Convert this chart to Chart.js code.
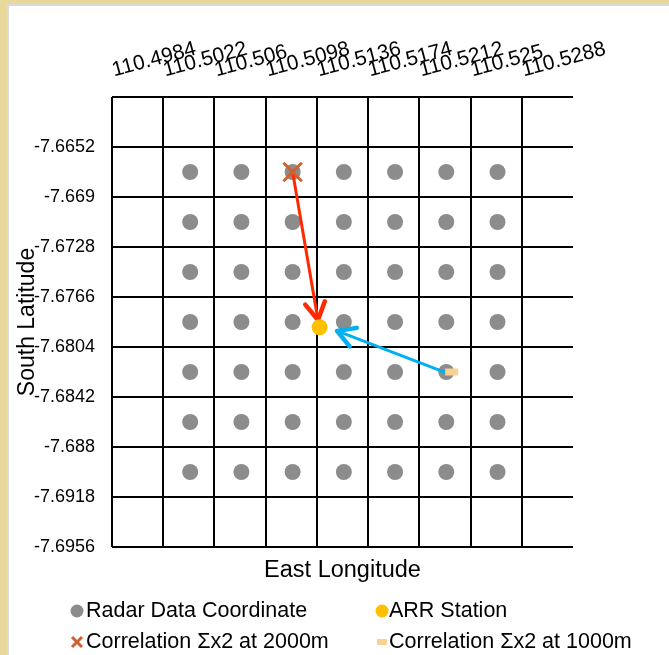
<!DOCTYPE html>
<html>
<head>
<meta charset="utf-8">
<script src="https://cdn.jsdelivr.net/npm/chart.js@4.4.1/dist/chart.umd.min.js"></script>
<style>
  html, body { margin: 0; padding: 0; }
  body { width: 669px; height: 655px; background: #e8d99b; overflow: hidden; position: relative; }
  .panel { position: absolute; left: 7px; top: 4px; width: 660px; height: 649px; background: #fff;
           border-left: 2px solid #dadada; border-top: 2px solid #dadada; }
  canvas { display: block; }
</style>
</head>
<body>
<div class="panel"><canvas id="chart" width="660" height="649"></canvas></div>
<script>
// axis ticks (longitude along the top, latitude on the left)
const lonTicks = [110.4984, 110.5022, 110.5060, 110.5098, 110.5136, 110.5174, 110.5212, 110.5250, 110.5288, 110.5326];
const lonTickLabels = ['110.4984', '110.5022', '110.506', '110.5098', '110.5136', '110.5174', '110.5212', '110.525', '110.5288', ''];
const latTicks = [-7.6956, -7.6918, -7.6880, -7.6842, -7.6804, -7.6766, -7.6728, -7.6690, -7.6652, -7.6614];
const latTickLabels = ['-7.6956', '-7.6918', '-7.688', '-7.6842', '-7.6804', '-7.6766', '-7.6728', '-7.669', '-7.6652', ''];

// radar grid coordinates
const radarLon = [110.5042, 110.5080, 110.5118, 110.5156, 110.5194, 110.5232, 110.5270];
const radarLat = [-7.6671, -7.6709, -7.6747, -7.6785, -7.6823, -7.6861, -7.6899];

// station and best-correlation points
const arrStation = [{ x: 110.5138, y: -7.6789 }];
const corr2000 = [{ x: 110.5118, y: -7.6671 }];
const corr1000 = [{ x: 110.5236, y: -7.6823 }];

// arrows from the correlated radar cells towards the station
const arrowFrom = [[110.5118, -7.6671], [110.5233, -7.6824]];
const arrowTo = [[110.51368, -7.67835], [110.51509, -7.67918]];

const radarPoints = [];
radarLat.forEach(lat => radarLon.forEach(lon => radarPoints.push({ x: lon, y: lat })));

Chart.defaults.font.family = "'Liberation Sans', Arial, sans-serif";
Chart.defaults.color = '#000';

const arrowColors = ['#ff2a00', '#00b0f0'];

const arrowPlugin = {
  id: 'arrows',
  afterDatasetDraw(chart, args) {
    if (args.index !== 0) return;
    const { ctx, scales: { x, y } } = chart;
    arrowFrom.forEach((from, i) => {
      const x0 = x.getPixelForValue(from[0]), y0 = y.getPixelForValue(from[1]);
      const x1 = x.getPixelForValue(arrowTo[i][0]), y1 = y.getPixelForValue(arrowTo[i][1]);
      const ang = Math.atan2(y1 - y0, x1 - x0);
      const head = 20, spread = 0.52;
      ctx.save();
      ctx.strokeStyle = arrowColors[i];
      ctx.lineCap = 'round';
      ctx.lineJoin = 'round';
      ctx.lineWidth = 3;
      ctx.beginPath();
      ctx.moveTo(x0, y0);
      ctx.lineTo(x1, y1);
      ctx.stroke();
      ctx.lineWidth = 4.5;
      ctx.beginPath();
      ctx.moveTo(x1 - head * Math.cos(ang - spread), y1 - head * Math.sin(ang - spread));
      ctx.lineTo(x1, y1);
      ctx.lineTo(x1 - head * Math.cos(ang + spread), y1 - head * Math.sin(ang + spread));
      ctx.stroke();
      ctx.restore();
    });
  }
};

// two-column legend under the axis title
const legendSlots = [
  { mx: 68, tx: 77, y: 605 },
  { mx: 373, tx: 380, y: 605 },
  { mx: 68, tx: 77, y: 636 },
  { mx: 373, tx: 380, y: 636 }
];

const legendPlugin = {
  id: 'gridLegend',
  afterDraw(chart) {
    const ctx = chart.ctx;
    ctx.save();
    ctx.font = "21.5px 'Liberation Sans', Arial, sans-serif";
    ctx.textBaseline = 'middle';
    ctx.textAlign = 'left';
    chart.data.datasets.forEach((ds, i) => {
      const s = legendSlots[i];
      const col = ds.backgroundColor;
      if (ds.pointStyle === 'circle') {
        ctx.fillStyle = col;
        ctx.beginPath();
        ctx.arc(s.mx, s.y, 6.5, 0, Math.PI * 2);
        ctx.fill();
      } else if (ds.pointStyle === 'crossRot') {
        ctx.strokeStyle = ds.borderColor;
        ctx.lineWidth = 3;
        ctx.beginPath();
        ctx.moveTo(s.mx - 5, s.y - 5); ctx.lineTo(s.mx + 5, s.y + 5);
        ctx.moveTo(s.mx + 5, s.y - 5); ctx.lineTo(s.mx - 5, s.y + 5);
        ctx.stroke();
      } else {
        ctx.fillStyle = ds.borderColor;
        ctx.fillRect(s.mx - 5, s.y - 3, 10, 6);
      }
      ctx.fillStyle = '#000';
      ctx.fillText(ds.label, s.tx, s.y);
    });
    ctx.restore();
  }
};

new Chart(document.getElementById('chart'), {
  type: 'scatter',
  data: {
    datasets: [
      {
        label: 'Radar Data Coordinate',
        data: radarPoints,
        pointStyle: 'circle',
        pointRadius: 8,
        backgroundColor: '#8c8c8c',
        borderColor: '#8c8c8c',
        borderWidth: 0,
        order: 4
      },
      {
        label: 'ARR Station',
        data: arrStation,
        pointStyle: 'circle',
        pointRadius: 8,
        backgroundColor: '#ffc000',
        borderColor: '#ffc000',
        borderWidth: 0,
        order: 1
      },
      {
        label: 'Correlation Σx2 at 2000m',
        data: corr2000,
        pointStyle: 'crossRot',
        pointRadius: 13,
        backgroundColor: '#cf6230',
        borderColor: '#cf6230',
        borderWidth: 3,
        order: 2
      },
      {
        label: 'Correlation Σx2 at 1000m',
        data: corr1000,
        pointStyle: 'line',
        pointRadius: 6.5,
        backgroundColor: '#f7d291',
        borderColor: '#f7d291',
        borderWidth: 7,
        order: 3
      }
    ]
  },
  options: {
    responsive: false,
    animation: false,
    layout: { padding: { left: 0, top: 0, right: 96, bottom: 63 } },
    plugins: { legend: { display: false }, tooltip: { enabled: false } },
    scales: {
      x: {
        type: 'linear',
        position: 'top',
        min: lonTicks[0],
        max: lonTicks[lonTicks.length - 1],
        afterBuildTicks: s => { s.ticks = lonTicks.map(v => ({ value: v })); },
        afterFit: s => { s.height = 91; },
        ticks: {
          callback: (v, i) => lonTickLabels[i],
          font: { size: 21 },
          padding: 14,
          labelOffset: 7,
          minRotation: 15,
          maxRotation: 15,
          autoSkip: false
        },
        grid: {
          color: c => (c.index === lonTicks.length - 1 ? 'rgba(0,0,0,0)' : '#000'),
          lineWidth: 2,
          drawTicks: false
        },
        border: { display: false }
      },
      xTitle: {
        type: 'linear',
        position: 'bottom',
        min: lonTicks[0],
        max: lonTicks[lonTicks.length - 1],
        afterFit: s => { s.height = 45; },
        ticks: { display: false },
        grid: { display: false },
        border: { display: false },
        title: {
          display: true,
          text: 'East Longitude',
          font: { size: 23.5 },
          padding: { top: 0, bottom: 7 }
        }
      },
      y: {
        type: 'linear',
        position: 'left',
        min: latTicks[0],
        max: latTicks[latTicks.length - 1],
        afterBuildTicks: s => { s.ticks = latTicks.map(v => ({ value: v })); },
        afterFit: s => { s.width = 103; },
        ticks: {
          callback: (v, i) => latTickLabels[i],
          font: { size: 18 },
          padding: 17
        },
        grid: { color: '#000', lineWidth: 2, drawTicks: false },
        border: { display: false },
        title: {
          display: true,
          text: 'South Latitude',
          font: { size: 23 },
          padding: { top: 5, bottom: 0 }
        }
      }
    }
  },
  plugins: [arrowPlugin, legendPlugin]
});
</script>
</body>
</html>
